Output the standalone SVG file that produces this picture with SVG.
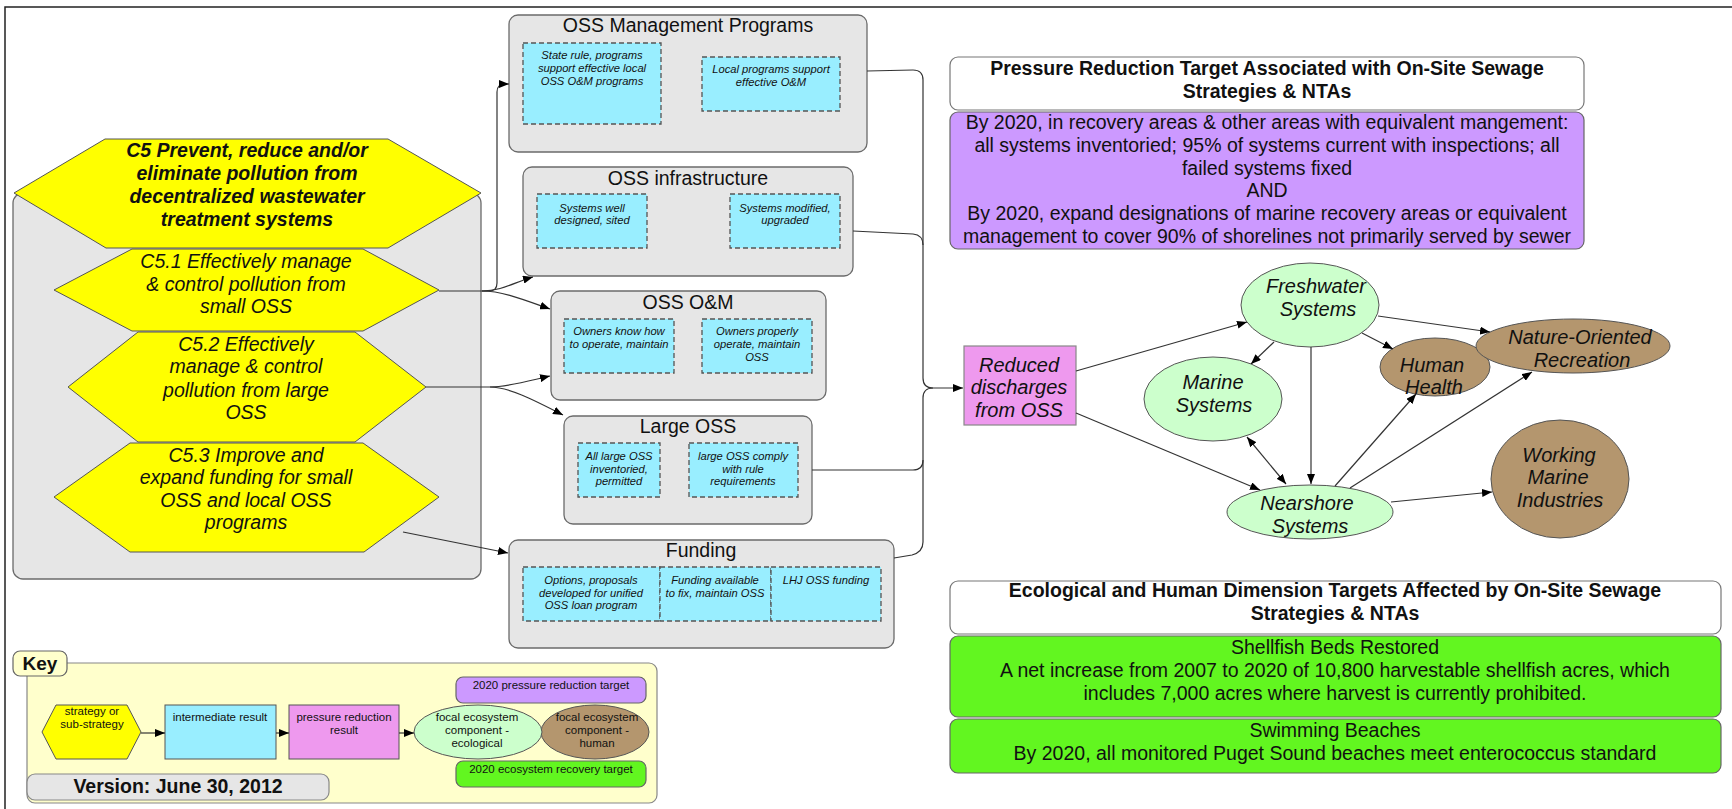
<svg xmlns="http://www.w3.org/2000/svg" width="1732" height="809" viewBox="0 0 1732 809">
<defs>
<marker id="arr" viewBox="0 0 10 8" refX="10" refY="4" markerWidth="10" markerHeight="8" markerUnits="userSpaceOnUse" orient="auto-start-reverse"><path d="M0,0 L10,4 L0,8 z" fill="#000"/></marker>
<style>
text{font-family:"Liberation Sans",Arial,sans-serif;fill:#111;text-anchor:middle}
.hex{fill:#FFFF00;stroke:#555;stroke-width:1}
.grp{fill:#E6E6E6;stroke:#6b6b6b;stroke-width:1.3}
.ir{fill:#99EEFF;stroke:#555;stroke-width:1.3;stroke-dasharray:5,3}
.big{font-size:19.5px}
.bi{font-size:19.5px;font-weight:bold;font-style:italic}
.it{font-size:19.5px;font-style:italic}
.sm{font-size:11.2px;font-style:italic}
.bold{font-size:19.5px;font-weight:bold}
.eco{fill:#CCFFCC;stroke:#555;stroke-width:1}
.hum{fill:#B4966E;stroke:#555;stroke-width:1}
.tgt{fill:#CC99FF;stroke:#666;stroke-width:1.2}
.grn{fill:#62F620;stroke:#666;stroke-width:1.2}
.hdr{fill:#FFFFFF;stroke:#777;stroke-width:1.2}
.ks{font-size:11.5px}
.conn{fill:none;stroke:#333;stroke-width:1.2}
</style>
</defs>
<rect x="0" y="0" width="1732" height="809" fill="#FFFFFF"/>
<path d="M5,809 L5,7 L1732,7" fill="none" stroke="#222" stroke-width="1.5"/>

<g id="strategy-group">
<rect class="grp" x="13" y="193" width="468" height="386" rx="10"/>
</g>
<g id="C5">
<polygon class="hex" points="14,193 105,139 388,139 481,193 388,248 106,248"/>
<text class="bi"><tspan x="247" y="157">C5 Prevent, reduce and/or</tspan><tspan x="247" y="180">eliminate pollution from</tspan><tspan x="247" y="203">decentralized wastewater</tspan><tspan x="247" y="226">treatment systems</tspan></text>
</g>
<g id="C5-1">
<polygon class="hex" points="54,290 132,249 363,249 439,290 363,331 132,331"/>
<text class="it"><tspan x="246" y="268">C5.1 Effectively manage</tspan><tspan x="246" y="291">&amp; control pollution from</tspan><tspan x="246" y="313">small OSS</tspan></text>
</g>
<g id="C5-2">
<polygon class="hex" points="68,387 138,332 355,332 426,387 355,442 138,442"/>
<text class="it"><tspan x="246" y="351">C5.2 Effectively</tspan><tspan x="246" y="373">manage &amp; control</tspan><tspan x="246" y="397">pollution from large</tspan><tspan x="246" y="419">OSS</tspan></text>
</g>
<g id="C5-3">
<polygon class="hex" points="54,497 130,443 363,443 439,497 364,552 130,552"/>
<text class="it"><tspan x="246" y="462">C5.3 Improve and</tspan><tspan x="246" y="484">expand funding for small</tspan><tspan x="246" y="507">OSS and local OSS</tspan><tspan x="246" y="529">programs</tspan></text>
</g>

<g id="oss-management-programs">
<rect class="grp" x="509" y="15" width="358" height="137" rx="9"/>
<text class="big" x="688" y="32">OSS Management Programs</text>
<rect class="ir" x="523" y="43" width="138" height="81"/>
<text class="sm"><tspan x="592" y="59">State rule, programs</tspan><tspan x="592" y="72">support effective local</tspan><tspan x="592" y="85">OSS O&amp;M programs</tspan></text>
<rect class="ir" x="702" y="57" width="138" height="54"/>
<text class="sm"><tspan x="771" y="73">Local programs support</tspan><tspan x="771" y="86">effective O&amp;M</tspan></text>
</g>
<g id="oss-infrastructure">
<rect class="grp" x="523" y="167" width="330" height="109" rx="9"/>
<text class="big" x="688" y="185">OSS infrastructure</text>
<rect class="ir" x="537" y="194" width="110" height="54"/>
<text class="sm"><tspan x="592" y="212">Systems well</tspan><tspan x="592" y="224">designed, sited</tspan></text>
<rect class="ir" x="730" y="194" width="110" height="54"/>
<text class="sm"><tspan x="785" y="212">Systems modified,</tspan><tspan x="785" y="224">upgraded</tspan></text>
</g>
<g id="oss-om">
<rect class="grp" x="551" y="291" width="275" height="109" rx="9"/>
<text class="big" x="688" y="309">OSS O&amp;M</text>
<rect class="ir" x="564" y="319" width="110" height="54"/>
<text class="sm"><tspan x="619" y="335">Owners know how</tspan><tspan x="619" y="348">to operate, maintain</tspan></text>
<rect class="ir" x="702" y="319" width="110" height="54"/>
<text class="sm"><tspan x="757" y="335">Owners properly</tspan><tspan x="757" y="348">operate, maintain</tspan><tspan x="757" y="361">OSS</tspan></text>
</g>
<g id="large-oss">
<rect class="grp" x="564" y="416" width="248" height="108" rx="9"/>
<text class="big" x="688" y="433">Large OSS</text>
<rect class="ir" x="578" y="443" width="82" height="54"/>
<text class="sm"><tspan x="619" y="460">All large OSS</tspan><tspan x="619" y="473">inventoried,</tspan><tspan x="619" y="485">permitted</tspan></text>
<rect class="ir" x="689" y="443" width="109" height="54"/>
<text class="sm"><tspan x="743" y="460">large OSS comply</tspan><tspan x="743" y="473">with rule</tspan><tspan x="743" y="485">requirements</tspan></text>
</g>
<g id="funding">
<rect class="grp" x="509" y="540" width="385" height="108" rx="9"/>
<text class="big" x="701" y="557">Funding</text>
<rect class="ir" x="523" y="567" width="137" height="54"/>
<text class="sm"><tspan x="591" y="584">Options, proposals</tspan><tspan x="591" y="597">developed for unified</tspan><tspan x="591" y="609">OSS loan program</tspan></text>
<rect class="ir" x="660" y="567" width="111" height="54"/>
<text class="sm"><tspan x="715" y="584">Funding available</tspan><tspan x="715" y="597">to fix, maintain OSS</tspan></text>
<rect class="ir" x="771" y="567" width="110" height="54"/>
<text class="sm"><tspan x="826" y="584">LHJ OSS funding</tspan></text>
</g>

<g id="reduced-discharges">
<rect x="964" y="346" width="112" height="79" fill="#EE99EE" stroke="#888" stroke-width="1.2"/>
<text class="it" style="font-size:20px"><tspan x="1019" y="372">Reduced</tspan><tspan x="1019" y="394">discharges</tspan><tspan x="1019" y="417">from OSS</tspan></text>
</g>
<g id="freshwater">
<ellipse class="eco" cx="1310" cy="305" rx="69" ry="42"/>
<text class="it" style="font-size:20px"><tspan x="1316" y="293">Freshwater</tspan><tspan x="1318" y="316">Systems</tspan></text>
</g>
<g id="marine">
<ellipse class="eco" cx="1213" cy="399" rx="69" ry="42"/>
<text class="it" style="font-size:20px"><tspan x="1213" y="389">Marine</tspan><tspan x="1214" y="412">Systems</tspan></text>
</g>
<g id="human-health">
<ellipse class="hum" cx="1435" cy="367" rx="55" ry="29"/>
<text class="it" style="font-size:20px"><tspan x="1432" y="372">Human</tspan><tspan x="1434" y="394">Health</tspan></text>
</g>
<g id="nature-recreation">
<ellipse class="hum" cx="1573" cy="346" rx="97" ry="27"/>
<text class="it" style="font-size:20px"><tspan x="1580" y="344">Nature-Oriented</tspan><tspan x="1582" y="367">Recreation</tspan></text>
</g>
<g id="nearshore">
<ellipse class="eco" cx="1310" cy="512" rx="83" ry="27"/>
<text class="it" style="font-size:20px"><tspan x="1307" y="510">Nearshore</tspan><tspan x="1310" y="533">Systems</tspan></text>
</g>
<g id="working-marine">
<ellipse class="hum" cx="1560" cy="479" rx="69" ry="59"/>
<text class="it" style="font-size:20px"><tspan x="1559" y="462">Working</tspan><tspan x="1558" y="484">Marine</tspan><tspan x="1560" y="507">Industries</tspan></text>
</g>

<g id="pressure-target">
<rect class="hdr" x="950" y="57" width="634" height="53" rx="8"/>
<text class="bold"><tspan x="1267" y="75">Pressure Reduction Target Associated with On-Site Sewage</tspan><tspan x="1267" y="98">Strategies &amp; NTAs</tspan></text>
<rect class="tgt" x="950" y="112" width="634" height="137" rx="8"/>
<text class="big"><tspan x="1267" y="129">By 2020, in recovery areas &amp; other areas with equivalent mangement:</tspan><tspan x="1267" y="152">all systems inventoried; 95% of systems current with inspections; all</tspan><tspan x="1267" y="175">failed systems fixed</tspan><tspan x="1267" y="197">AND</tspan><tspan x="1267" y="220">By 2020, expand designations of marine recovery areas or equivalent</tspan><tspan x="1267" y="243">management to cover 90% of shorelines not primarily served by sewer</tspan></text>
</g>
<g id="eco-targets">
<rect class="hdr" x="950" y="581" width="771" height="53" rx="8"/>
<text class="bold"><tspan x="1335" y="597">Ecological and Human Dimension Targets Affected by On-Site Sewage</tspan><tspan x="1335" y="620">Strategies &amp; NTAs</tspan></text>
</g>
<g id="shellfish">
<rect class="grn" x="950" y="636" width="771" height="81" rx="8"/>
<text class="big"><tspan x="1335" y="654">Shellfish Beds Restored</tspan><tspan x="1335" y="677">A net increase from 2007 to 2020 of 10,800 harvestable shellfish acres, which</tspan><tspan x="1335" y="700">includes 7,000 acres where harvest is currently prohibited.</tspan></text>
</g>
<g id="swimming">
<rect class="grn" x="950" y="719" width="771" height="54" rx="8"/>
<text class="big"><tspan x="1335" y="737">Swimming Beaches</tspan><tspan x="1335" y="760">By 2020, all monitored Puget Sound beaches meet enterococcus standard</tspan></text>
</g>

<g id="key">
<rect x="27" y="663" width="630" height="140" rx="8" fill="#FFFFCC" stroke="#888" stroke-width="1.2"/>
<rect x="13" y="651" width="54" height="25" rx="7" fill="#FFFFCC" stroke="#666" stroke-width="1.2"/>
<text class="bold" style="font-size:19px" x="40" y="670">Key</text>
<rect class="tgt" x="456" y="677" width="190" height="26" rx="7"/>
<text class="ks" x="551" y="689">2020 pressure reduction target</text>
<polygon class="hex" points="42,732 56,705 127,705 141,732 127,759 56,759"/>
<text class="ks"><tspan x="92" y="715">strategy or</tspan><tspan x="92" y="728">sub-strategy</tspan></text>
<rect x="165" y="705" width="111" height="54" fill="#99EEFF" stroke="#555" stroke-width="1"/>
<text class="ks" x="220" y="721">intermediate result</text>
<rect x="289" y="705" width="110" height="54" fill="#EE99EE" stroke="#555" stroke-width="1"/>
<text class="ks"><tspan x="344" y="721">pressure reduction</tspan><tspan x="344" y="734">result</tspan></text>
<ellipse class="hum" cx="595" cy="732" rx="54" ry="27"/>
<text class="ks"><tspan x="597" y="721">focal ecosystem</tspan><tspan x="597" y="734">component -</tspan><tspan x="597" y="747">human</tspan></text>
<ellipse class="eco" cx="478" cy="732" rx="64" ry="27"/>
<text class="ks"><tspan x="477" y="721">focal ecosystem</tspan><tspan x="477" y="734">component -</tspan><tspan x="477" y="747">ecological</tspan></text>
<rect class="grn" x="456" y="761" width="190" height="26" rx="7"/>
<text class="ks" x="551" y="773">2020 ecosystem recovery target</text>
<rect x="27" y="774" width="302" height="26" rx="8" fill="#E6E6E6" stroke="#888" stroke-width="1.2"/>
<text class="bold" x="178" y="793">Version: June 30, 2012</text>
<path class="conn" d="M141,733 L165,733" marker-end="url(#arr)"/>
<path class="conn" d="M276,733 L289,733" marker-end="url(#arr)"/>
<path class="conn" d="M399,733 L414,733" marker-end="url(#arr)"/>
</g>

<g id="connectors">
<path class="conn" d="M439,291 L489,291 Q497,291 497,283 L497,92 Q497,84 505,84 L509,84" marker-end="url(#arr)"/>
<path class="conn" d="M482,291 C502,291 515,282 533,277" marker-end="url(#arr)"/>
<path class="conn" d="M482,291 C502,291 522,299 550,309" marker-end="url(#arr)"/>
<path class="conn" d="M426,387 L490,387 C508,387 528,381 550,376" marker-end="url(#arr)"/>
<path class="conn" d="M490,387 C508,387 532,399 563,415" marker-end="url(#arr)"/>
<path class="conn" d="M403,532 L508,553" marker-end="url(#arr)"/>
<path class="conn" d="M867,71 L913,70 Q923,70 923,80 L923,378 Q923,388 933,388 L963,388" marker-end="url(#arr)"/>
<path class="conn" d="M853,231 L913,234 Q923,235 923,245"/>
<path class="conn" d="M812,470 L913,470 Q923,470 923,460 L923,398 Q923,388 933,388"/>
<path class="conn" d="M894,558 L912,555 Q923,552 923,542 L923,460"/>
<path class="conn" d="M1076,371 L1247,322" marker-end="url(#arr)"/>
<path class="conn" d="M1076,413 L1260,490" marker-end="url(#arr)"/>
<path class="conn" d="M1274,342 L1251,364" marker-end="url(#arr)"/>
<path class="conn" d="M1311,347 L1311,484" marker-end="url(#arr)"/>
<path class="conn" d="M1362,333 L1393,349" marker-end="url(#arr)"/>
<path class="conn" d="M1378,316 L1490,332" marker-end="url(#arr)"/>
<path class="conn" d="M1247,437 L1286,484" marker-start="url(#arr)" marker-end="url(#arr)"/>
<path class="conn" d="M1335,486 L1416,394" marker-end="url(#arr)"/>
<path class="conn" d="M1350,488 L1532,372" marker-end="url(#arr)"/>
<path class="conn" d="M1391,502 L1492,492" marker-end="url(#arr)"/>
</g>
</svg>
